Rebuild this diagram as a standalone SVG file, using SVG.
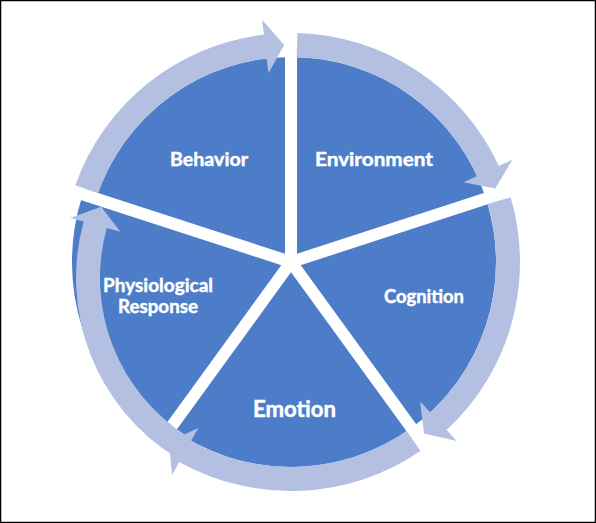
<svg xmlns="http://www.w3.org/2000/svg" width="596" height="523" viewBox="0 0 596 523">
<style>
.sector{fill:#4D7DC9;}
.arrow{fill:#B3C0E2;}
.gap{stroke:#FFFFFF;stroke-width:12;stroke-linecap:butt;fill:none;}
.lbl{fill:#FFFFFF;stroke:#FFFFFF;stroke-width:0.45;font-family:Lato,"Open Sans","Liberation Sans",sans-serif;font-weight:700;font-size:19.5px;text-anchor:middle;}
.big{font-size:22.5px;}
</style>
<rect x="0" y="0" width="596" height="523" fill="#FFFFFF"/>
<rect x="0.5" y="0.5" width="595" height="522" fill="none" stroke="#000000" stroke-width="1.5"/>
<g id="node-behavior">
<path class="sector" d="M291,262 L96.0,198.7 A205,205 0 0 1 291,57 Z"/>
<text class="lbl" x="209" y="166" textLength="78" lengthAdjust="spacingAndGlyphs">Behavior</text>
</g>
<g id="node-environment">
<path class="sector" d="M291,262 L291,57 A205,205 0 0 1 486.0,198.7 Z"/>
<text class="lbl" x="374" y="166" textLength="118" lengthAdjust="spacingAndGlyphs">Environment</text>
</g>
<g id="node-cognition">
<path class="sector" d="M291,262 L486.0,198.7 A205,205 0 0 1 411.5,427.8 Z"/>
<text class="lbl" x="424" y="303" textLength="80" lengthAdjust="spacingAndGlyphs">Cognition</text>
</g>
<g id="node-emotion">
<path class="sector" d="M291,262 L411.5,427.8 A205,205 0 0 1 170.5,427.8 Z"/>
<text class="lbl big" x="294.5" y="417" textLength="83" lengthAdjust="spacingAndGlyphs">Emotion</text>
</g>
<g id="node-physiological-response">
<path class="sector" d="M291,262 L162.3,439.2 A219,219 0 0 1 82.7,194.3 Z"/>
<text class="lbl" x="158" y="292" textLength="110" lengthAdjust="spacingAndGlyphs">Physiological</text>
<text class="lbl" x="158" y="313" textLength="80" lengthAdjust="spacingAndGlyphs">Response</text>
</g>
<g id="separators">
<line class="gap" x1="291" y1="262" x2="291" y2="10"/>
<line class="gap" x1="291" y1="262" x2="528.8" y2="184.7"/>
<line class="gap" x1="291" y1="262" x2="437.9" y2="464.3"/>
<line class="gap" x1="291" y1="262" x2="144.1" y2="464.3"/>
<line class="gap" x1="291" y1="262" x2="53.2" y2="184.7"/>
<circle cx="291" cy="262" r="7" fill="#FFFFFF"/>
</g>
<g id="connectors">
<path class="arrow" d="M75.3,185.2 A229,229 0 0 1 263.9,34.6 L262.1,19.7 L284.2,45.1 L268.5,73.3 L266.7,58.4 A205,205 0 0 0 97.9,193.2 Z"/>
<path class="arrow" d="M297.4,33.1 A229,229 0 0 1 498.9,165.9 L512.5,159.6 L495.2,188.5 L463.5,182.3 L477.1,176.0 A205,205 0 0 0 296.7,57.1 Z"/>
<path class="arrow" d="M510.7,197.4 A229,229 0 0 1 446.6,430.0 L456.8,441.0 L424.0,433.5 L420.1,401.4 L430.3,412.4 A205,205 0 0 0 487.7,204.1 Z"/>
<path class="arrow" d="M420.4,450.9 A229,229 0 0 1 179.3,461.9 L172.0,475.0 L169.0,441.5 L198.3,427.9 L191.0,440.9 A205,205 0 0 0 406.8,431.1 Z"/>
<path class="arrow" d="M175.2,456.9 A211,211 0 0 1 83.7,221.6 L70.2,217.9 L101.2,206.7 L120.3,231.8 L106.8,228.0 A187,187 0 0 0 187.9,436.6 Z"/>
</g>
</svg>
